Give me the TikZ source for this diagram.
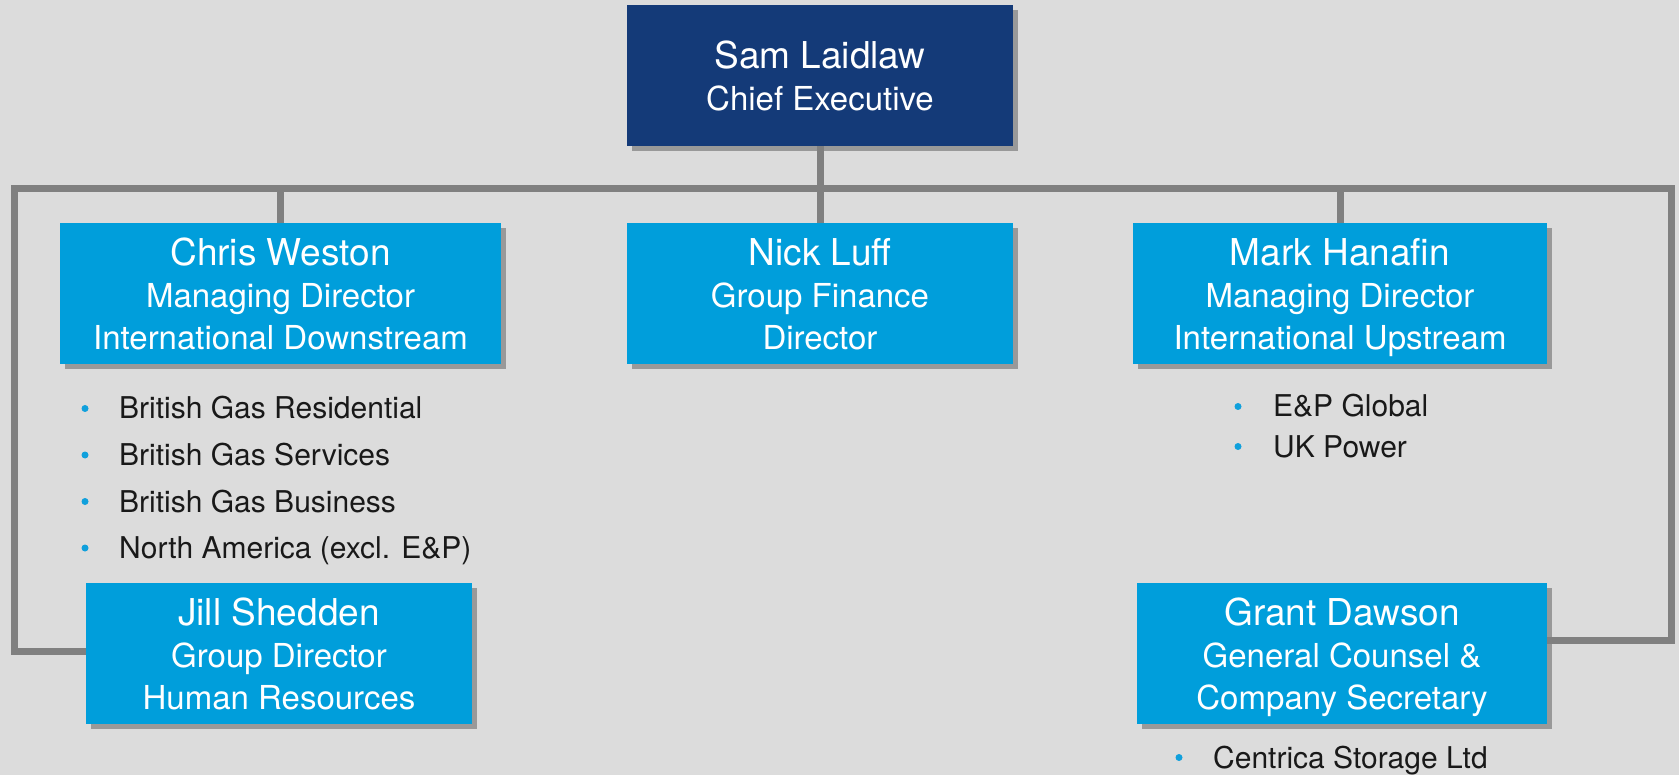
\documentclass[tikz,border=0pt]{standalone}
\usepackage{fontspec}
\setmainfont{TeX Gyre Heros}
\usepackage{xcolor}
\usetikzlibrary{shadows}
\definecolor{bgGrey}{RGB}{220,220,220}
\definecolor{lineGrey}{RGB}{128,128,128}
\definecolor{chiefBlue}{RGB}{20,58,120}
\definecolor{cardBlue}{RGB}{0,158,219}
\definecolor{dotBlue}{RGB}{16,160,220}
\newcommand{\who}[1]{{\fontsize{37}{42}\selectfont #1}}
\tikzset{
  card/.style={fill=cardBlue, text=white, inner sep=0pt, align=center,
    minimum height=141pt, text depth=0pt, font=\fontsize{33}{42}\selectfont,
    drop shadow={shadow xshift=5pt, shadow yshift=-5pt, fill=black, opacity=0.3}},
  chief/.style={card, fill=chiefBlue},
  link/.style={draw=lineGrey, line width=7pt},
  dept/.style={anchor=base west, inner sep=0pt, text=black!90,
    font=\fontsize{30}{36}\selectfont},
  dot/.style={fill=dotBlue}
}

\begin{document}
\begin{tikzpicture}[x=1pt,y=-1pt]
\fill[bgGrey] (0,0) rectangle (1679,775);
\useasboundingbox (0,0) rectangle (1679,775);

\node[chief, minimum width=386pt] (sam) at (820,75.5) {\who{Sam Laidlaw}\\Chief Executive};
\node[card, minimum width=441pt] (chris) at (280.5,293.5) {\who{Chris Weston}\\Managing Director\\International Downstream};
\node[card, minimum width=386pt] (nick) at (820,293.5) {\who{Nick Luff}\\Group Finance\\Director};
\node[card, minimum width=414pt] (mark) at (1340,293.5) {\who{Mark Hanafin}\\Managing Director\\International Upstream};
\node[card, minimum width=386pt] (jill) at (279,653.5) {\who{Jill Shedden}\\Group Director\\Human Resources};
\node[card, minimum width=410pt] (grant) at (1342,653.5) {\who{Grant Dawson}\\General Counsel \&\\Company Secretary};

\coordinate (busL) at (14,189);
\coordinate (busR) at (1671,189);
\draw[link] (sam.south) -- (nick.north);
\draw[link] ([yshift=2.5pt]jill.west) -| (busL) -- (busR) |- ([yshift=13.5pt]grant.east);
\draw[link] (chris.north) -- (chris.north |- busL);
\draw[link] (mark.north) -- (mark.north |- busL);

\foreach \dname [count=\i] in {British Gas Residential, British Gas Services, British Gas Business, {North America (excl. E\&P)}}{
  \node[dept] (down\i) at (119,{372.5+46.5*\i}) {\dname};
  \fill[dot] ([xshift=-34pt,yshift=10.5pt]down\i.base west) circle (3.5pt);
}
\foreach \dname [count=\i] in {E\&P Global, UK Power}{
  \node[dept] (up\i) at (1273,{377+40*\i}) {\dname};
  \fill[dot] ([xshift=-35pt,yshift=10.5pt]up\i.base west) circle (3.5pt);
}
\node[dept] (store) at (1213,768) {Centrica Storage Ltd};
\fill[dot] ([xshift=-34pt,yshift=10.5pt]store.base west) circle (3.5pt);
\end{tikzpicture}
\end{document}
